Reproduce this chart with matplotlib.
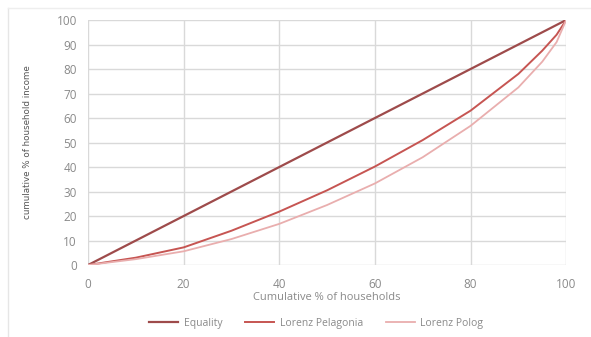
import matplotlib.pyplot as plt
from matplotlib.lines import Line2D

plt.rcParams['font.family'] = ['Open Sans', 'DejaVu Sans']

# cumulative % of households
x_pts = [0, 10, 20, 30, 40, 50, 60, 70, 80, 90, 95, 98, 100]
# Lorenz curves
pelagonia = [0, 3.0, 7.2, 14.0, 21.8, 30.5, 40.2, 51.0, 63.0, 78.0, 87.5, 94.0, 100]
polog = [0, 2.4, 5.6, 10.6, 16.8, 24.5, 33.3, 44.0, 56.8, 72.5, 83.0, 91.0, 100]
equality = [0, 100]
equality_x = [0, 100]

ticks = [0, 20, 40, 60, 80, 100]
yticks = list(range(0, 101, 10))

grey = '#8a8a8a'
fig = plt.figure(figsize=(5.91, 3.37), dpi=100)
ax = fig.add_axes([0.149, 0.2136, 0.809, 0.727])

ax.plot(equality_x, equality, color='#9e4b4b', lw=1.6, label='Equality')
ax.plot(x_pts, pelagonia, color='#c65552', lw=1.4, label='Lorenz Pelagonia')
ax.plot(x_pts, polog, color='#e9aeae', lw=1.3, label='Lorenz Polog')

ax.set_xlim(0, 100)
ax.set_ylim(0, 100)
ax.set_xticks(ticks)
ax.set_yticks(yticks)
ax.grid(True, color='#d9d9d9', lw=1)
ax.set_axisbelow(True)
for s in ax.spines.values():
    s.set_visible(False)
ax.tick_params(length=0, colors=grey, labelsize=8.5)
ax.tick_params(axis='x', pad=9)
ax.tick_params(axis='y', pad=8)

ax.set_xlabel('Cumulative % of households', color=grey, fontsize=8, labelpad=1)
ax.set_ylabel('cumulative % of household income', color='#555555', fontsize=6.3,
              family=['Liberation Sans Narrow', 'DejaVu Sans Condensed', 'DejaVu Sans'],
              labelpad=18)

ax.legend(loc='center', bbox_to_anchor=(0.535, 0.04), bbox_transform=fig.transFigure,
          ncol=3, frameon=False, fontsize=7.5, labelcolor=grey,
          handlelength=2.8, columnspacing=2.2, handletextpad=0.5)

# faint frame of the original screenshot
fig.add_artist(Line2D([0.014, 0.014], [0, 0.976], color='#e6e6e6', lw=1))
fig.add_artist(Line2D([0.014, 1], [0.976, 0.976], color='#eeeeee', lw=1))

fig.savefig('out.png', dpi=100)
